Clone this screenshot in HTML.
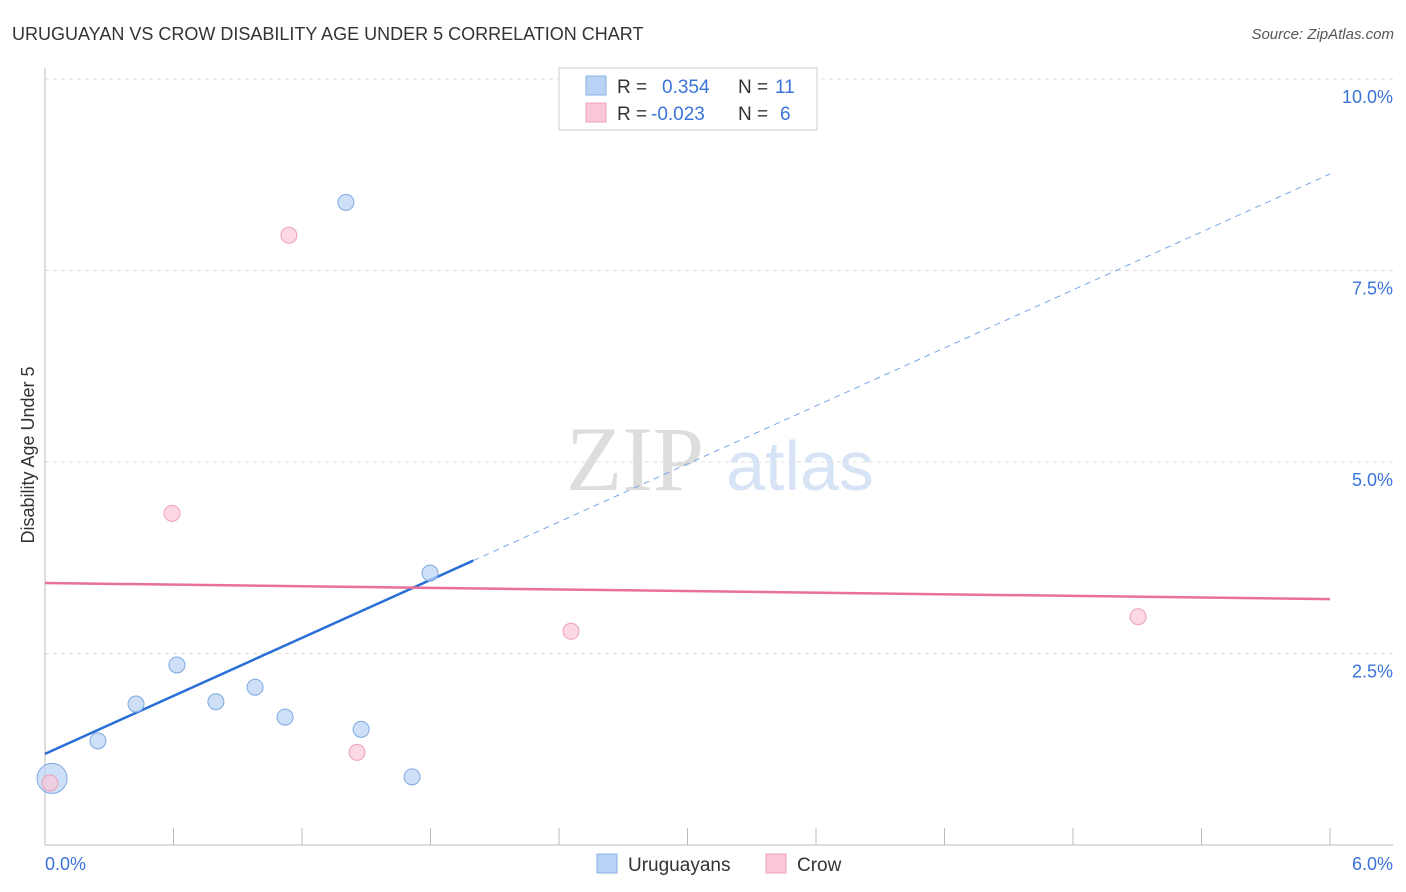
<!DOCTYPE html>
<html><head><meta charset="utf-8"><style>
body{margin:0;background:#fff;font-family:"Liberation Sans",sans-serif}
svg{display:block}
</style></head><body>
<svg width="1406" height="892">
<text x="12" y="40" font-size="18" fill="#333">URUGUAYAN VS CROW DISABILITY AGE UNDER 5 CORRELATION CHART</text>
<text x="1394" y="39" font-size="15" fill="#555" font-style="italic" text-anchor="end">Source: ZipAtlas.com</text>
<g>
<text x="635" y="490" font-size="92" fill="#ddd" font-family="Liberation Serif,serif" text-anchor="middle">ZIP</text>
<text x="800" y="490" font-size="70" fill="#d6e4f5" text-anchor="middle">atlas</text></g>
<g id="grid"></g><g id="axes"></g><g id="marks"></g>
<text transform="translate(34,455) rotate(-90)" font-size="18" fill="#333" text-anchor="middle">Disability Age Under 5</text>
<text x="45" y="870" font-size="18" fill="#3a74d9">0.0%</text>
<text x="1393" y="870" font-size="18" fill="#3a74d9" text-anchor="end">6.0%</text>
<g>
<rect x="559" y="68" width="258" height="62" fill="#fff" stroke="#ccc"/>
<rect x="586" y="76" width="20" height="19" fill="#b8d3f5" stroke="#8ab0e0"/>
<rect x="586" y="103" width="20" height="19" fill="#fac8d6" stroke="#f0a0b8"/>
<text x="617" y="93" font-size="19" fill="#333">R = </text><text x="662" y="93" font-size="19" fill="#3a74d9">0.354</text>
<text x="738" y="93" font-size="19" fill="#333">N = </text><text x="775" y="93" font-size="19" fill="#3a74d9">11</text>
<text x="617" y="120" font-size="19" fill="#333">R = </text><text x="651" y="120" font-size="19" fill="#3a74d9">-0.023</text>
<text x="738" y="120" font-size="19" fill="#333">N = </text><text x="780" y="120" font-size="19" fill="#3a74d9">6</text>
</g>
<g>
<rect x="597" y="854" width="20" height="19" fill="#b8d3f5" stroke="#8ab0e0"/>
<text x="628" y="871" font-size="19" fill="#333">Uruguayans</text>
<rect x="766" y="854" width="20" height="19" fill="#fac8d6" stroke="#f0a0b8"/>
<text x="797" y="871" font-size="19" fill="#333">Crow</text></g>
</svg>
<script>
const yTicks=[2.5,5.0,7.5,10.0];
const yTickLabels=["2.5%","5.0%","7.5%","10.0%"];
const uruX=[0.033,0.247,0.425,0.616,0.798,0.981,1.121,1.405,1.476,1.714,1.798];
const uruY=[0.87,1.36,1.84,2.35,1.87,2.06,1.67,8.39,1.51,0.89,3.55];
const uruR=[15,8,8,8,8,8,8,8,8,8,8];
const crowX=[0.023,0.593,1.139,1.457,2.456,5.104];
const crowY=[0.81,4.33,7.96,1.21,2.79,2.98];
const uruLine=[1.19,8.76];
const uruSolidEnd=2.0;
const crowLine=[3.42,3.21];
const NS="http://www.w3.org/2000/svg";
const X=v=>45+v/6*1285, Y=v=>845-v*76.6;
function mk(p,t,a){const e=document.createElementNS(NS,t);for(const k in a)e.setAttribute(k,a[k]);document.getElementById(p).appendChild(e);return e;}
yTicks.forEach((t,i)=>{
 const g=mk('grid','line',{x1:45,x2:1393,y1:Y(t),y2:Y(t),stroke:'#ddd','stroke-dasharray':'4,4'});
 
 
 const l=mk('grid','text',{x:1393,y:Y(t)+24,'font-size':18,fill:'#3a74d9','text-anchor':'end'});
 l.textContent=yTickLabels[i];
 
 
});
const ax=mk('axes','line',{x1:45,x2:1393,y1:845,y2:845,stroke:'#bbb'});


const ay=mk('axes','line',{x1:45,x2:45,y1:68,y2:845,stroke:'#bbb'});


for(let i=0;i<=10;i++){const t=mk('axes','line',{x1:X(i*0.6),x2:X(i*0.6),y1:828,y2:845,stroke:'#bbb'});
 
 }
const yAt=x=>uruLine[0]+(uruLine[1]-uruLine[0])*x/6;
const l1=mk('marks','line',{x1:X(0),y1:Y(uruLine[0]),x2:X(uruSolidEnd),y2:Y(yAt(uruSolidEnd)),stroke:'#2a6fd6','stroke-width':2.5});


const l2=mk('marks','line',{x1:X(uruSolidEnd),y1:Y(yAt(uruSolidEnd)),x2:X(6),y2:Y(uruLine[1]),stroke:'#7aa6e6','stroke-width':1,'stroke-dasharray':'6,5'});


const l3=mk('marks','line',{x1:X(0),y1:Y(crowLine[0]),x2:X(6),y2:Y(crowLine[1]),stroke:'#e8709a','stroke-width':2.5});


uruX.forEach((x,i)=>{const c=mk('marks','circle',{cx:X(x),cy:Y(uruY[i]),r:uruR[i],fill:'rgba(184,211,245,0.7)',stroke:'#7ea8e0'});
 
 });
crowX.forEach((x,i)=>{const c=mk('marks','circle',{cx:X(x),cy:Y(crowY[i]),r:8,fill:'rgba(250,200,214,0.7)',stroke:'#eea0b8'});
 
 });
</script>
</body></html>
